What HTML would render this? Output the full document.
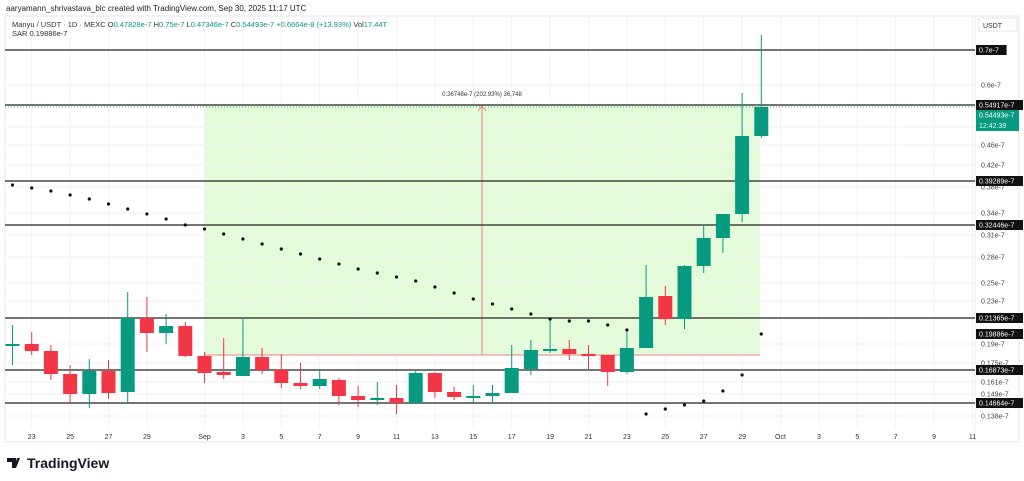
<!DOCTYPE html>
<html><head><meta charset="utf-8"><style>
body{margin:0;background:#fff;width:1024px;height:476px;overflow:hidden;font-family:"Liberation Sans",sans-serif}
</style></head><body>
<svg id="s" width="1024" height="476" xmlns="http://www.w3.org/2000/svg" font-family="Liberation Sans, sans-serif">
<text x="6" y="11" font-size="8" fill="#222">aaryamann_shrivastava_blc created with TradingView.com, Sep 30, 2025 11:17 UTC</text>
<rect x="5" y="16" width="1014" height="426" fill="none" stroke="#e6e6e6"/>
<line x1="975" y1="16" x2="975" y2="442" stroke="#eee"/>
<rect x="204" y="105" width="556" height="250" fill="#e3fbd9"/>
<g id="grid"></g>
<line x1="204" y1="355" x2="760" y2="355" stroke="#f08080" stroke-width="1"/>
<line x1="482" y1="106" x2="482" y2="355" stroke="#f08080" stroke-width="1"/>
<path d="M478 111 L482 106 L486 111" fill="none" stroke="#f08080"/>
<text x="482" y="96" font-size="6" text-anchor="middle" fill="#333">0.36748e-7 (202.93%) 36,748</text>
<g id="hl"></g>
<g id="c"></g>
<g id="d"></g>
<g id="ax"></g>
<text x="12" y="27" font-size="7.5" fill="#333">Manyu / USDT · 1D · MEXC  <tspan fill="#333">O</tspan><tspan fill="#089981">0.47828e-7</tspan> H<tspan fill="#089981">0.75e-7</tspan> L<tspan fill="#089981">0.47346e-7</tspan> C<tspan fill="#089981">0.54493e-7  +0.6664e-8 (+13.93%)</tspan> Vol<tspan fill="#089981">17.44T</tspan></text>
<text x="12" y="36" font-size="7.5" fill="#333">SAR  0.19886e-7</text>
<rect x="979" y="18" width="38" height="13" fill="#fff" stroke="#e6e6e6"/>
<text x="983" y="28" font-size="7" fill="#333">USDT</text>
<g transform="translate(7,458)"><path d="M0 0h9v10h-4v-6h-5z M10 0h3l-4 10h-2z" fill="#131722"/><text x="20" y="10" font-size="14" font-weight="bold" fill="#131722">TradingView</text></g>
</svg>
<script>
const NS="http://www.w3.org/2000/svg";
function el(p,t,a,txt){const e=document.createElementNS(NS,t);for(const k in a)e.setAttribute(k,a[k]);if(txt!=null)e.textContent=txt;document.getElementById(p).appendChild(e);return e;}
const X=i=>12.5+19.2*i;
// grid
const dates=[[1,"23"],[3,"25"],[5,"27"],[7,"29"],[10,"Sep"],[12,"3"],[14,"5"],[16,"7"],[18,"9"],[20,"11"],[22,"13"],[24,"15"],[26,"17"],[28,"19"],[30,"21"],[32,"23"],[34,"25"],[36,"27"],[38,"29"],[40,"Oct"],[42,"3"],[44,"5"],[46,"7"],[48,"9"],[50,"11"]];
const prices=[[85,"0.6e-7"],[127,"0.5e-7"],[145,"0.46e-7"],[165,"0.42e-7"],[187,"0.38e-7"],[213,"0.34e-7"],[235,"0.31e-7"],[257,"0.28e-7"],[283,"0.25e-7"],[301,"0.23e-7"],[344,"0.19e-7"],[363,"0.175e-7"],[382,"0.161e-7"],[394,"0.149e-7"],[416,"0.138e-7"]];
dates.forEach(([i,t])=>{el("grid","line",{x1:X(i),y1:16,x2:X(i),y2:428,stroke:"#f2f2f2"});el("ax","text",{x:X(i),y:439,"font-size":7,"text-anchor":"middle",fill:"#333"},t);});
prices.forEach(([y,t])=>{el("grid","line",{x1:5,y1:y,x2:975,y2:y,stroke:"#f2f2f2"});el("ax","text",{x:981,y:y+2.5,"font-size":7,fill:"#444"},t);});
// horizontal lines
[[50,"0.7e-7"],[105,"0.54917e-7"],[181,"0.39289e-7"],[225,"0.32446e-7"],[318,"0.21365e-7"],[370,"0.16873e-7"],[403,"0.14664e-7"]].forEach(([y,t])=>{
el("hl","line",{x1:5,y1:y,x2:975,y2:y,stroke:"#222","stroke-width":1.3});
el("ax","rect",{x:976,y:y-5,width:t.length*4.1+6,height:10,fill:"#111"});
el("ax","text",{x:979,y:y+2.5,"font-size":7,fill:"#fff"},t);});
el("ax","rect",{x:976,y:329,width:47,height:10,fill:"#111"});
el("ax","text",{x:979,y:336.5,"font-size":7,fill:"#fff"},"0.19886e-7");
el("ax","rect",{x:976,y:110,width:43,height:21,fill:"#089981"});
el("ax","text",{x:979,y:117.5,"font-size":7,fill:"#fff"},"0.54493e-7");
el("ax","text",{x:979,y:128,"font-size":7,fill:"#d8fff0"},"12:42:39");
el("hl","line",{x1:5,y1:107,x2:975,y2:107,stroke:"#089981","stroke-dasharray":"1 2","stroke-width":0.8});
// candles: [open, close, high, low] in px (green if close<open in y)
const C=[[345,344,325,365],[344,351,332,355],[351,374,345,380],[374,394,365,403],[394,371,359,408],[371,393,360,399],[392,318,292,404],[318,333,297,352],[333,326,314,344],[326,356,322,357],
[356,373,352,383],[372,375,338,379],[376,357,318,376],[357,370,348,374],[370,383,354,388],[383,386,363,389],[386,379,369,389],[380,396,378,405],[396,400,386,407],[400,398,382,405],
[398,403,385,414],[403,373,371,403],[373,392,372,398],[392,397,387,400],[397,396,385,403],[396,393,385,403],[393,368,345,393],[369,350,340,375],[351,349,320,353],[349,354,340,360],
[354,356,345,369],[355,372,355,386],[372,348,332,374],[348,297,265,348],[296,319,286,325],[319,266,265,329],[266,238,225,273],[238,214,214,253],[214,136,93,222],[136,107,35,138]];
C.forEach((c,i)=>{const g=c[1]<c[0];const col=g?"#089981":"#f23645";const x=X(i);
el("c","line",{x1:x,y1:c[2],x2:x,y2:c[3],stroke:col,"stroke-width":1});
const t=Math.min(c[0],c[1]),h=Math.max(2,Math.abs(c[0]-c[1]));
el("c","rect",{x:x-7,y:t,width:14,height:h,fill:col});});
const S=[185,188,191,195,199,204,209,214,219,225,229,234,239,244,249,254,259,264,269,273,277,281,287,293,299,304,309,314,319,321,321,325,330,414,409,405,401,391,375,334];
S.forEach((y,i)=>el("d","circle",{cx:X(i),cy:y,r:1.6,fill:"#111"}));
</script>
</body></html>
